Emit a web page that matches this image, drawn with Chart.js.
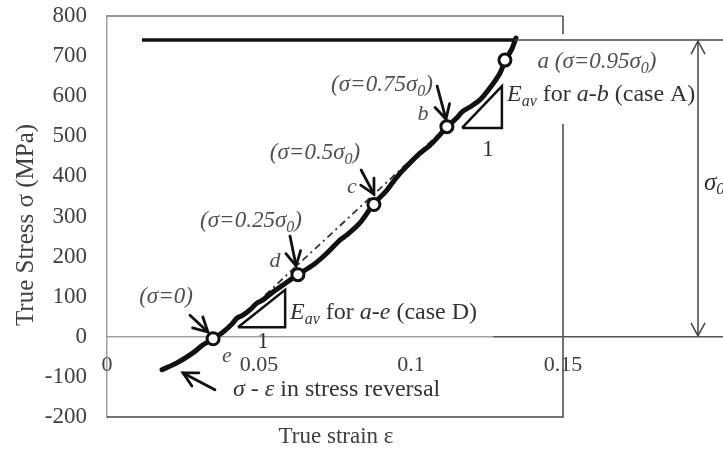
<!DOCTYPE html>
<html>
<head>
<meta charset="utf-8">
<script src="https://cdn.jsdelivr.net/npm/chart.js@4.4.0/dist/chart.umd.min.js"></script>
<style>
  html, body { margin: 0; padding: 0; background: #fff; }
</style>
</head>
<body>
<canvas id="chart" width="723" height="450"></canvas>
<script>
// ========= Data =========
const curveStrain = [0.0181, 0.0230, 0.0283, 0.0316, 0.0349, 0.0382, 0.0411, 0.0428, 0.0447, 0.0470,
  0.0493, 0.0513, 0.0546, 0.0579, 0.0625, 0.0678, 0.0724, 0.0766, 0.0789, 0.0832, 0.0875,
  0.0921, 0.0954, 0.0997, 0.1030, 0.1063, 0.1086, 0.1118, 0.1151, 0.1168, 0.1194, 0.1227,
  0.1260, 0.1293, 0.1309, 0.1332, 0.1345];
const curveStress = [-82, -65, -40, -20, -5, 12, 32, 47, 54, 67,
  84, 92, 112, 129, 154, 179, 209, 241, 254, 284, 329,
  366, 399, 434, 458, 478, 496, 523, 546, 561, 573, 591,
  621, 658, 688, 718, 745];

const markStrain = [0.0349, 0.0628, 0.0878, 0.1118, 0.1309];
const markStress = [-5, 155, 330, 524, 690];

const sigma0 = 740;
const sigma0Strain = [0.0115, 0.134];

const secantStrain = [0.052, 0.1095];
const secantStress = [104, 508];

const triAStrain = [0.1168, 0.1299, 0.1299, 0.1168];
const triAStress = [521, 521, 625, 521];
const triDStrain = [0.0431, 0.0586, 0.0586, 0.0431];
const triDStress = [24, 24, 117, 24];

const xTicks = [0, 0.05, 0.1, 0.15];

// annotation arrows: [fromStrain, fromStress, toStrain, toStress]
const arrows = [
  [0.0273, 54, 0.0332, 12],
  [0.0602, 251, 0.0622, 177],
  [0.0836, 416, 0.0878, 356],
  [0.1086, 625, 0.1115, 543],
  [0.0355, -132, 0.0250, -90]
];

const pts = (xs, ys) => xs.map((x, i) => ({ x: x, y: ys[i] }));

// ========= Drawing helpers =========
const SERIF = '"Liberation Serif", "DejaVu Serif", serif';

function arrowHead(ctx, x1, y1, x2, y2, len, half) {
  const a = Math.atan2(y2 - y1, x2 - x1);
  ctx.beginPath();
  ctx.moveTo(x2 - len * Math.cos(a) + half * Math.sin(a), y2 - len * Math.sin(a) - half * Math.cos(a));
  ctx.lineTo(x2, y2);
  ctx.lineTo(x2 - len * Math.cos(a) - half * Math.sin(a), y2 - len * Math.sin(a) + half * Math.cos(a));
  ctx.stroke();
}

// parts: [text, style] where style is "n", "i", or "s" (italic subscript)
function rich(ctx, x, y, parts, size, align, color) {
  const fontOf = st => (st === "n" ? "" : "italic ") + (st === "s" ? Math.round(size * 0.68) : size) + "px " + SERIF;
  let w = 0;
  parts.forEach(p => { ctx.font = fontOf(p[1]); w += ctx.measureText(p[0]).width; });
  let cx = align === "center" ? x - w / 2 : x;
  ctx.textBaseline = "middle";
  ctx.textAlign = "left";
  ctx.fillStyle = color;
  parts.forEach(p => {
    ctx.font = fontOf(p[1]);
    ctx.fillText(p[0], cx, p[1] === "s" ? y + size * 0.28 : y);
    cx += ctx.measureText(p[0]).width;
  });
}

const decor = {
  id: "decor",
  beforeDatasetsDraw(chart) {
    const { ctx, chartArea: ca, scales: { x, y } } = chart;
    const y0 = y.getPixelForValue(0);
    const xDark = x.getPixelForValue(0.127);
    ctx.save();
    // plot box
    ctx.lineWidth = 1.5;
    ctx.strokeStyle = "#777";
    ctx.beginPath();
    ctx.moveTo(ca.left, ca.top); ctx.lineTo(ca.right, ca.top);
    ctx.stroke();
    ctx.strokeStyle = "#444";
    ctx.beginPath();
    ctx.moveTo(ca.right, ca.top); ctx.lineTo(ca.right, ca.bottom); ctx.lineTo(ca.left, ca.bottom);
    ctx.stroke();
    // zero line
    ctx.strokeStyle = "#a0a0a0";
    ctx.beginPath();
    ctx.moveTo(ca.left, y0); ctx.lineTo(xDark, y0);
    ctx.stroke();
    ctx.strokeStyle = "#555";
    ctx.beginPath();
    ctx.moveTo(xDark, y0); ctx.lineTo(chart.width, y0);
    ctx.stroke();
    // x tick labels sit under the zero line
    ctx.font = "22px " + SERIF;
    ctx.fillStyle = "#404040";
    ctx.textAlign = "center";
    ctx.textBaseline = "middle";
    xTicks.forEach(t => ctx.fillText(String(t), x.getPixelForValue(t), y0 + 28));
    // white box behind right-hand labels
    ctx.fillStyle = "#fff";
    ctx.fillRect(530, 34, 164, 90);
    ctx.restore();
  },
  afterDatasetsDraw(chart) {
    const { ctx, scales: { x, y } } = chart;
    const px = v => x.getPixelForValue(v);
    const py = v => y.getPixelForValue(v);
    ctx.save();
    // sigma0 line extension and double arrow
    const ys0 = py(sigma0), y0 = py(0);
    ctx.strokeStyle = "#444";
    ctx.lineWidth = 1.5;
    ctx.beginPath();
    ctx.moveTo(px(sigma0Strain[1]), ys0); ctx.lineTo(chart.width, ys0);
    ctx.stroke();
    const xa = 698;
    ctx.beginPath();
    ctx.moveTo(xa, ys0 + 1); ctx.lineTo(xa, y0 - 1);
    ctx.stroke();
    arrowHead(ctx, xa, y0, xa, ys0 + 1, 13, 7);
    arrowHead(ctx, xa, ys0, xa, y0 - 1, 13, 7);

    // annotation arrows
    ctx.strokeStyle = "#111";
    ctx.lineWidth = 2.8;
    ctx.lineCap = "round";
    arrows.forEach(a => {
      const x1 = px(a[0]), y1 = py(a[1]), x2 = px(a[2]), y2 = py(a[3]);
      ctx.beginPath(); ctx.moveTo(x1, y1); ctx.lineTo(x2, y2); ctx.stroke();
      arrowHead(ctx, x1, y1, x2, y2, 14, 7.5);
    });

    // labels
    const grey = "#505050", dark = "#333";
    rich(ctx, 166, 297, [["(σ=0)", "i"]], 23, "center", grey);
    rich(ctx, 227, 356, [["e", "i"]], 22, "center", grey);
    rich(ctx, 251, 221, [["(σ=0.25σ", "i"], ["0", "s"], [")", "i"]], 23, "center", grey);
    rich(ctx, 275, 261, [["d", "i"]], 22, "center", grey);
    rich(ctx, 315, 153, [["(σ=0.5σ", "i"], ["0", "s"], [")", "i"]], 23, "center", grey);
    rich(ctx, 352, 187, [["c", "i"]], 22, "center", grey);
    rich(ctx, 382, 85, [["(σ=0.75σ", "i"], ["0", "s"], [")", "i"]], 23, "center", grey);
    rich(ctx, 423, 114, [["b", "i"]], 22, "center", grey);
    rich(ctx, 597, 62, [["a (σ=0.95σ", "i"], ["0", "s"], [")", "i"]], 23, "center", grey);
    rich(ctx, 507, 95, [["E", "i"], ["av", "s"], [" for ", "n"], ["a-b", "i"], [" (case A)", "n"]], 24, "left", dark);
    rich(ctx, 488, 150, [["1", "n"]], 23, "center", dark);
    rich(ctx, 290, 313, [["E", "i"], ["av", "s"], [" for ", "n"], ["a-e", "i"], [" (case D)", "n"]], 24, "left", dark);
    rich(ctx, 263, 342, [["1", "n"]], 23, "center", dark);
    rich(ctx, 233, 390, [["σ", "i"], [" - ", "n"], ["ε", "i"], [" in stress reversal", "n"]], 24, "left", dark);
    rich(ctx, 704, 183, [["σ", "i"], ["0", "s"]], 25, "left", dark);

    // axis titles
    ctx.fillStyle = "#404040";
    ctx.font = "23px " + SERIF;
    ctx.textAlign = "center";
    ctx.textBaseline = "middle";
    ctx.fillText("True strain ε", 336, 437);
    ctx.font = "25px " + SERIF;
    ctx.translate(26, 225);
    ctx.rotate(-Math.PI / 2);
    ctx.fillText("True Stress σ (MPa)", 0, 0);
    ctx.restore();
  }
};

// ========= Chart =========
new Chart(document.getElementById("chart"), {
  type: "scatter",
  data: {
    datasets: [
      { data: pts(curveStrain, curveStress), showLine: true, borderColor: "#111", borderWidth: 5,
        pointRadius: 0, tension: 0.3, borderJoinStyle: "round", borderCapStyle: "round", order: 3 },
      { data: pts(secantStrain, secantStress), showLine: true, borderColor: "#333", borderWidth: 1.8,
        borderDash: [7, 4, 2, 4], pointRadius: 0, order: 4 },
      { data: pts(sigma0Strain, [sigma0, sigma0]), showLine: true, borderColor: "#111", borderWidth: 3.5,
        pointRadius: 0, order: 2 },
      { data: pts(triAStrain, triAStress), showLine: true, borderColor: "#111", borderWidth: 2.5,
        pointRadius: 0, borderJoinStyle: "miter", order: 2 },
      { data: pts(triDStrain, triDStress), showLine: true, borderColor: "#111", borderWidth: 2.5,
        pointRadius: 0, borderJoinStyle: "miter", order: 2 },
      { data: pts(markStrain, markStress), showLine: false, pointRadius: 6, pointBorderWidth: 3,
        pointBackgroundColor: "#fff", pointBorderColor: "#111", order: 1 }
    ]
  },
  options: {
    responsive: false,
    animation: false,
    devicePixelRatio: 1,
    layout: { padding: { left: 0, top: 16, right: 160, bottom: 33 } },
    plugins: { legend: { display: false }, tooltip: { enabled: false } },
    scales: {
      x: { type: "linear", min: 0, max: 0.15, display: false },
      y: {
        type: "linear", min: -200, max: 800,
        grid: { display: false, drawTicks: false },
        border: { display: true, color: "#a0a0a0", width: 1.5 },
        ticks: { stepSize: 100, padding: 20, color: "#404040",
          font: { family: "Liberation Serif", size: 23 } },
        afterFit: s => { s.width = 107; s.paddingTop = 0; s.paddingBottom = 0; }
      }
    }
  },
  plugins: [decor]
});
</script>
</body>
</html>
